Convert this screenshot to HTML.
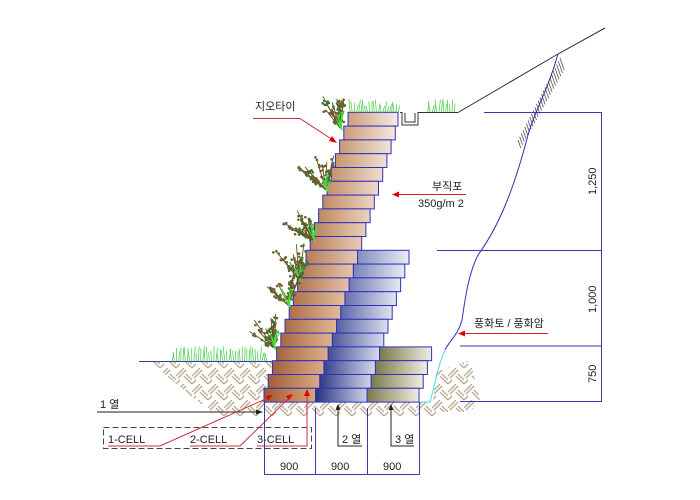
<!DOCTYPE html>
<html><head><meta charset="utf-8"><style>
html,body{margin:0;padding:0;background:#fff;}
svg{display:block;}
text{font-family:"Liberation Sans","Noto Sans CJK KR",sans-serif;font-size:11px;fill:#222;}
</style></head><body>
<svg id="s" width="700" height="500" viewBox="0 0 700 500" xmlns="http://www.w3.org/2000/svg">
<defs>
<pattern id="hatch" width="16" height="16" patternUnits="userSpaceOnUse">
<g stroke="#b8a890" stroke-width="1.3">
<line x1="0" y1="8" x2="8" y2="0"/><line x1="2" y1="10" x2="10" y2="2"/>
<line x1="8" y1="8" x2="16" y2="16"/><line x1="10" y1="6" x2="16" y2="12"/>
<line x1="0" y1="16" x2="4" y2="12"/>
</g></pattern>
</defs>
<!-- ground hatches -->
<polygon points="150,362 272,362 266,402 264,416 215,416" fill="url(#hatch)"/>
<polygon points="262,402 440,402 440,416 262,416" fill="url(#hatch)"/>
<polygon points="436,372 470,360 480,400 470,412 432,412" fill="url(#hatch)"/>
<g id="slash" stroke="#555" stroke-width="0.8"></g>
<line x1="139" y1="361.5" x2="272" y2="361.5" stroke="#3a3ab0" stroke-width="1"/>
<g id="blocks"></g>
<g id="plants"></g>
<!-- top ground -->
<polyline points="400,112.5 402,112.5 402,125 418,125 418,112.5 458,112.5 558,54 605,28" fill="none" stroke="#333" stroke-width="1"/>
<polyline points="405,113 405,122 415,122 415,113" fill="none" stroke="#333" stroke-width="1"/>
<!-- slope line -->
<path d="M558,54 C548,90 535,110 528,135 C515,185 500,225 478,255 C468,275 465,300 462,320 C458,335 450,340 445,350" fill="none" stroke="#3030b0" stroke-width="1"/>
<path d="M445,350 C438,365 435,385 430,402 L420,402" fill="none" stroke="#40e0e0" stroke-width="1"/>
<!-- dimension lines right -->
<g stroke="#3a3ab0" stroke-width="1">
<line x1="484" y1="112.5" x2="602" y2="112.5"/>
<line x1="437" y1="250.5" x2="602" y2="250.5"/>
<line x1="460" y1="346" x2="602" y2="346"/>
<line x1="460" y1="401.5" x2="602" y2="401.5"/>
<line x1="601.5" y1="112" x2="601.5" y2="402"/>
</g>
<text transform="translate(596,195) rotate(-90)" font-size="11">1,250</text>
<text transform="translate(596,313) rotate(-90)" font-size="11">1,000</text>
<text transform="translate(596,383) rotate(-90)" font-size="11">750</text>
<!-- labels -->
<text x="255" y="110">지오타이</text>
<polyline points="253,118.5 300,118.5 333,140" fill="none" stroke="#c03040" stroke-width="1"/>
<polygon points="337,143 329,141 332,136" fill="#e00000"/>
<text x="432" y="190">부직포</text>
<text x="418" y="207">350g/m 2</text>
<line x1="396" y1="194.5" x2="466" y2="194.5" stroke="#e02020" stroke-width="1"/>
<polygon points="392,194.5 399,191.5 399,197.5" fill="#e00000"/>
<text x="474" y="327">풍화토 / 풍화암</text>
<line x1="462" y1="333.5" x2="548" y2="333.5" stroke="#e02020" stroke-width="1"/>
<polygon points="458,333.5 465,330.5 465,336.5" fill="#e00000"/>
<!-- bottom left -->
<text x="100" y="408">1 열</text>
<line x1="97" y1="412" x2="258" y2="412" stroke="#222" stroke-width="1"/>
<polygon points="263,412 256,409.5 256,414.5" fill="#222"/>
<rect x="103.5" y="427.5" width="208" height="21" fill="none" stroke="#444" stroke-dasharray="6,3" stroke-width="1"/>
<text x="108" y="443">1-CELL</text>
<text x="190" y="443">2-CELL</text>
<text x="257" y="443">3-CELL</text>
<g stroke="#d03040" stroke-width="1" fill="none">
<polyline points="108,446 160,446 270,397"/>
<polyline points="190,446 240,446 290,397"/>
<polyline points="257,446 307,446 307,392"/>
</g>
<g fill="#e00000">
<polygon points="273,395 266,396 268,400"/><polygon points="293,394 286,396 289,400"/><polygon points="307,389 304,396 310,396"/>
</g>
<!-- dims bottom -->
<g stroke="#3a3ab0" stroke-width="1">
<line x1="264.5" y1="402" x2="264.5" y2="475"/>
<line x1="315.5" y1="408" x2="315.5" y2="475"/>
<line x1="367.5" y1="408" x2="367.5" y2="475"/>
<line x1="419.5" y1="402" x2="419.5" y2="475"/>
<line x1="264" y1="474.5" x2="420" y2="474.5"/>
</g>
<text x="280" y="470">900</text><text x="331" y="470">900</text><text x="383" y="470">900</text>
<text x="342" y="443">2 열</text><text x="395" y="443">3 열</text>
<g stroke="#222" stroke-width="1" fill="none">
<polyline points="338,408 338,446 362,446"/><polyline points="391,408 391,446 414,446"/>
</g>
<polygon points="338,404 335.5,410 340.5,410" fill="#222"/>
<polygon points="391,404 388.5,410 393.5,410" fill="#222"/>
</svg>
<script>
var NS="http://www.w3.org/2000/svg",svg=document.getElementById('s'),defs=svg.querySelector('defs');
var B=document.getElementById('blocks'),P=document.getElementById('plants'),S=document.getElementById('slash');
function el(t,a,p){var e=document.createElementNS(NS,t);for(var k in a)e.setAttribute(k,a[k]);(p||B).appendChild(e);return e;}
function lerp(a,b,t){return Math.round(a+(b-a)*t);}
function col(c){return 'rgb('+c.join(',')+')';}
function grad(id,c1,c2){var g=el('linearGradient',{id:id,x1:0,y1:0,x2:1,y2:0},defs);el('stop',{offset:0,'stop-color':col(c1)},g);el('stop',{offset:1,'stop-color':col(c2)},g);}
for(var i=0;i<21;i++){
 var y=112.3+13.8*i,h=13.8,L=348-4.2*i,t=i/20;
 var b1=[lerp(205,160,t),lerp(160,90,t),lerp(120,50,t)],b2=[lerp(245,215,t),lerp(235,165,t),lerp(228,125,t)];
 grad('br'+i,b1,b2);
 var bw=(i==0)?50:51.5;
 if(i>=10){var tt=(i-10)/10;grad('bl'+i,[lerp(130,40,tt),lerp(140,50,tt),lerp(190,130,tt)],[lerp(235,205,tt),lerp(238,210,tt),lerp(245,230,tt)]);
  el('rect',{x:L+51.5,y:y,width:51.5,height:h,fill:'url(#bl'+i+')',stroke:'#3030c0','stroke-width':1});}
 if(i>=17){grad('ol'+i,[125,120,75],[240,238,225]);
  el('rect',{x:L+103,y:y,width:52,height:h,fill:'url(#ol'+i+')',stroke:'#3030c0','stroke-width':1});}
 el('rect',{x:L,y:y,width:bw,height:h,fill:'url(#br'+i+')',stroke:'#3030c0','stroke-width':1});
}
// slope hatch: short strokes right of slope line
for(var k=0;k<26;k++){var f=k/25;var x=557-f*42,y=58+f*82;
 el('line',{x1:x+3,y1:y,x2:x+3+ (12-f*4)*0.35,y2:y+(12-f*4)},S);}
var seed=7;function r(){seed=(seed*16807)%2147483647;return seed/2147483647;}
function grass(x0,x1,yb,hh){for(var x=x0;x<x1;x+=2.2){var hx=hh*(0.5+r()*0.6);el('line',{x1:x,y1:yb,x2:x+(r()-0.5)*4,y2:yb-hx,stroke:'#50d050','stroke-width':0.8},P);}}
grass(172,268,361,14);grass(350,400,112,12);grass(428,456,112,12);
var pl=[[340,128],[326,190],[313,240],[299,280],[288,305],[274,348]];
pl.forEach(function(p){
 var bx=p[0],by=p[1];
 for(var k=0;k<9;k++){var a=-Math.PI/2-0.35+(r()-0.5)*1.5,len=18+r()*20;
  var x2=bx+Math.cos(a)*len,y2=by+Math.sin(a)*len;
  el('line',{x1:bx,y1:by,x2:x2,y2:y2,stroke:'#6a4a20','stroke-width':0.9},P);
  for(var j=0;j<8;j++){var f=0.2+r()*0.8;el('circle',{cx:bx+(x2-bx)*f+(r()-0.5)*6,cy:by+(y2-by)*f+(r()-0.5)*4,r:1.3,fill:r()<0.5?'#3a7a30':'#7a5a30'},P);}
 }
 for(var k=0;k<7;k++){el('path',{d:'M'+(bx+2)+','+(by+2)+' q'+(-6+r()*6)+',-8 '+(-8+r()*12)+',-'+(10+r()*10),fill:'none',stroke:'#40e040','stroke-width':0.9},P);}
});
</script>
</body></html>
